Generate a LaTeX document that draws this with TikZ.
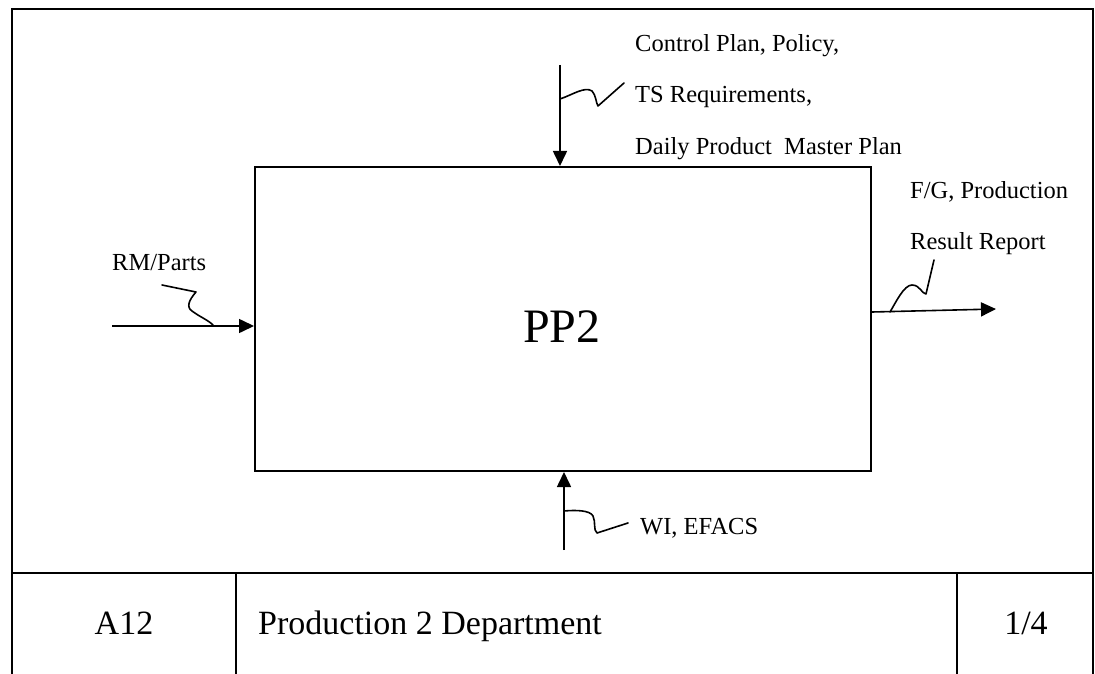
\documentclass[tikz,border=0pt]{standalone}
\usepackage{fontspec}
\setmainfont{Liberation Serif}
\usetikzlibrary{arrows.meta}
\begin{document}
\begin{tikzpicture}[x=1pt,y=-1pt,
  frame/.style={line width=2pt},
  flow/.style={line width=1.6pt,-{Triangle[length=15pt,width=14pt]}},
  squig/.style={line width=1.6pt,line join=round,line cap=round},
  lbl/.style={font=\fontsize{24.5}{29}\selectfont,anchor=base west,inner sep=0pt},
  cell/.style={font=\fontsize{34}{40}\selectfont,anchor=base,inner sep=0pt}]
\useasboundingbox (0,0) rectangle (1095,674);
\fill[white] (0,0) rectangle (1095,674);

% outer sheet frame and title strip
\draw[frame] (12,674) -- (12,9) -- (1093,9) -- (1093,674);
\draw[frame] (12,573) -- (1093,573);
\draw[frame] (236,573) -- (236,674);
\draw[frame] (957,573) -- (957,674);

% activity box
\node[draw,line width=2pt,minimum width=616pt,minimum height=304pt,inner sep=0pt] (box) at (563,319) {};
\node[font=\fontsize{48}{56}\selectfont,anchor=base,inner sep=0pt] (title) at (562,342) {PP2};

% labels
\node[lbl] (ctl1) at (635,52) {Control Plan, Policy,};
\node[lbl] (ctl2) at (635,103) {TS Requirements,};
\node[lbl] (ctl3) at (635,154) {Daily Product\ \ Master Plan};
\node[lbl] (out1) at (910,198) {F/G, Production};
\node[lbl] (out2) at (910,249) {Result Report};
\node[lbl] (inp) at (112,270) {RM/Parts};
\node[lbl] (mech) at (640,534) {WI, EFACS};

% arrow end points
\coordinate (inS) at (112,326);
\coordinate (ctlS) at (560,65);
\coordinate (mechS) at (564,550);
\coordinate (outY) at (0,312);
\coordinate (outE) at (996,309);

% arrows
\draw[flow] (inS) -- (box.west |- inS);
\draw[flow] (ctlS) -- (ctlS |- box.north);
\draw[flow] (mechS) -- (mechS |- box.south);
\draw[flow] (box.east |- outY) -- (outE);

% label squiggles
\draw[squig] (162,285) -- (196,292) .. controls (189,300) and (186,307) .. (192,311)
  .. controls (200,317) and (208,320) .. (213,325);
\draw[squig] (560,99) .. controls (572,95) and (585,86) .. (592,91)
  .. controls (596,95) and (596,103) .. (598,106) -- (624,83);
\draw[squig] (564,511) .. controls (575,510) and (590,510) .. (593,516)
  .. controls (596,522) and (593,530) .. (597,533) -- (628,523);
\draw[squig] (890,312) .. controls (896,302) and (904,285) .. (912,285)
  .. controls (920,285) and (922,294) .. (926,294) -- (934,260);

% title strip cells
\node[cell] (num) at (124,634) {A12};
\node[cell,anchor=base west] (dept) at (258,634) {Production 2 Department};
\node[cell] (page) at (1026,634) {1/4};
\end{tikzpicture}
\end{document}
